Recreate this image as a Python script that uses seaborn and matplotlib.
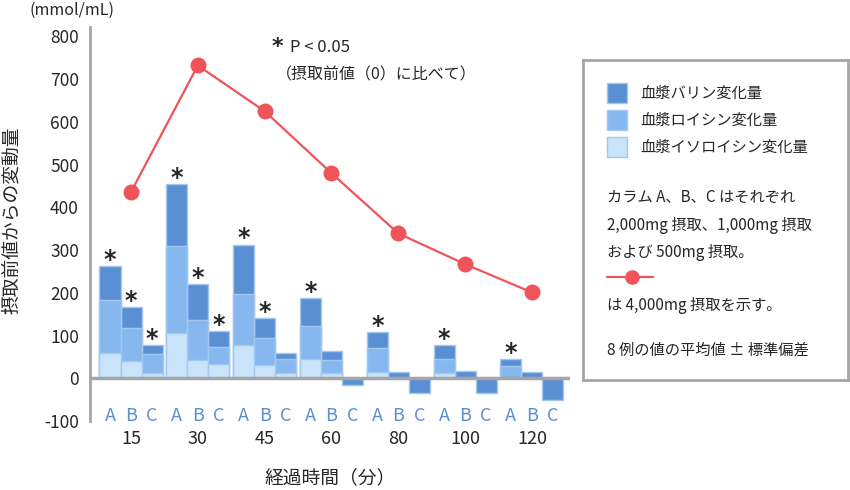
import numpy as np
import pandas as pd
import matplotlib
matplotlib.use('Agg')
import matplotlib.pyplot as plt
from matplotlib.patches import Rectangle
import seaborn as sns

# data
times = ['15', '30', '45', '60', '80', '100', '120']
doses = ['A', 'B', 'C']
# isoleucine / leucine / valine change per time point, columns A, B, C
iso = [[58, 40, 12], [105, 42, 33], [77, 30, 12], [44, 12, 0],
       [14, 0, 0], [12, 0, 0], [0, 0, 0]]
leu = [[124, 77, 44], [204, 94, 40], [120, 64, 32], [78, 30, 0],
       [56, 0, 0], [32, 0, 0], [28, 0, 0]]
val = [[80, 49, 21], [145, 84, 37], [116, 46, 14], [65, 21, -16],
       [38, 14, -35], [33, 16, -35], [16, 14, -52]]
sig = [[1, 1, 1], [1, 1, 1], [1, 1, 0], [1, 0, 0], [1, 0, 0], [1, 0, 0], [1, 0, 0]]
line_4000 = [436, 732, 625, 480, 339, 267, 201]

rows = []
for i, t in enumerate(times):
    for j, d in enumerate(doses):
        rows.append({'time': t, 'dose': d, 'iso': iso[i][j],
                     'leu_cum': iso[i][j] + leu[i][j],
                     'total': iso[i][j] + leu[i][j] + val[i][j],
                     'sig': sig[i][j]})
df = pd.DataFrame(rows)

c_val = '#5b8fd4'
c_leu = '#86b8ef'
c_iso = '#c9e3fb'
c_edge = '#a3c8f0'
c_red = '#ef5558'

sns.set_style('white')
plt.rcParams['font.family'] = ['Noto Sans CJK JP', 'DejaVu Sans']
plt.rcParams['axes.unicode_minus'] = False

fig = plt.figure(figsize=(8.5, 4.9), dpi=100)
ax = fig.add_axes([90 / 850, 69 / 490, 480 / 850, 394 / 490])

bw = 0.945
for col, colr in [('total', c_val), ('leu_cum', c_leu), ('iso', c_iso)]:
    sns.barplot(data=df, x='time', y=col, hue='dose', order=times, hue_order=doses,
                palette=[colr] * 3, width=bw, gap=0, dodge=True, legend=False,
                edgecolor=c_edge, linewidth=1, saturation=1, ax=ax)

sns.lineplot(x=np.arange(len(times)), y=line_4000, color=c_red, lw=1.6,
             marker='o', markersize=11.5, markeredgewidth=0, ax=ax, zorder=5)

ax.axhline(0, color='#a5a5a5', lw=2.5, zorder=4)

off = bw / 3
for i, t in enumerate(times):
    for j, d in enumerate(doses):
        xc = i + (j - 1) * off
        r = df[(df.time == t) & (df.dose == d)].iloc[0]
        if r['sig']:
            ax.text(xc, r['total'] - 13, '*', ha='center', va='bottom',
                    fontsize=17, fontweight='bold', family='DejaVu Sans')
        ax.text(xc, -89, d, ha='center', va='center', fontsize=13, color=c_val)
    ax.text(i, -143, t, ha='center', va='center', fontsize=13, clip_on=False)

ax.set_xlim(-0.614, 6.57)
ax.set_ylim(-98, 822)
ax.set_yticks(range(-100, 801, 100))
ax.tick_params(axis='y', length=0, labelsize=12.5, pad=8)
ax.set_xticks([])
ax.set_xlabel('')
ax.set_ylabel('')
for s in ['top', 'right', 'bottom']:
    ax.spines[s].set_visible(False)
ax.spines['left'].set_color('#a5a5a5')
ax.spines['left'].set_linewidth(2)

fig.text(12 / 850, 1 - 220 / 490, '摂取前値からの変動量', rotation=90, ha='center',
         va='center', fontsize=13.5)
fig.text(72 / 850, 1 - 10 / 490, '(mmol/mL)', ha='center', va='center', fontsize=11.5)
fig.text(330 / 850, 1 - 478 / 490, '経過時間（分）', ha='center', va='center', fontsize=13.5)
fig.text(272 / 850, 1 - 47 / 490, '*', ha='left', va='center', fontsize=16,
         fontweight='bold', family='DejaVu Sans')
fig.text(290 / 850, 1 - 47 / 490, 'P < 0.05', ha='left', va='center', fontsize=12)
fig.text(276 / 850, 1 - 75 / 490, '（摂取前値（0）に比べて）', ha='left', va='center',
         fontsize=11.5)

# legend box
lax = fig.add_axes([583 / 850, 1 - 380 / 490, 265 / 850, 320 / 490])
lax.set_xlim(0, 265)
lax.set_ylim(320, 0)
lax.set_xticks([])
lax.set_yticks([])
for s in lax.spines.values():
    s.set_color('#a5a5a5')
    s.set_linewidth(2)
legend_items = [('血漿バリン変化量', c_val), ('血漿ロイシン変化量', c_leu),
                ('血漿イソロイシン変化量', c_iso)]
for k, (lab, colr) in enumerate(legend_items):
    yc = 33 + k * 27
    lax.add_patch(Rectangle((24, yc - 10), 20, 20, facecolor=colr, edgecolor=c_edge, lw=1))
    lax.text(57, yc, lab, va='center', fontsize=11)
lax.text(24, 137, 'カラム A、B、C はそれぞれ', va='center', fontsize=11)
lax.text(24, 165, '2,000mg 摂取、1,000mg 摂取', va='center', fontsize=11)
lax.text(24, 192, 'および 500mg 摂取。', va='center', fontsize=11)
lax.plot([24, 70], [217, 217], color=c_red, lw=1.6)
lax.plot([49], [217], 'o', color=c_red, markersize=10.5, markeredgewidth=0)
lax.text(24, 245, 'は 4,000mg 摂取を示す。', va='center', fontsize=11)
lax.text(24, 290, '8 例の値の平均値 ± 標準偏差', va='center', fontsize=11)

fig.savefig('out.png', dpi=100)
